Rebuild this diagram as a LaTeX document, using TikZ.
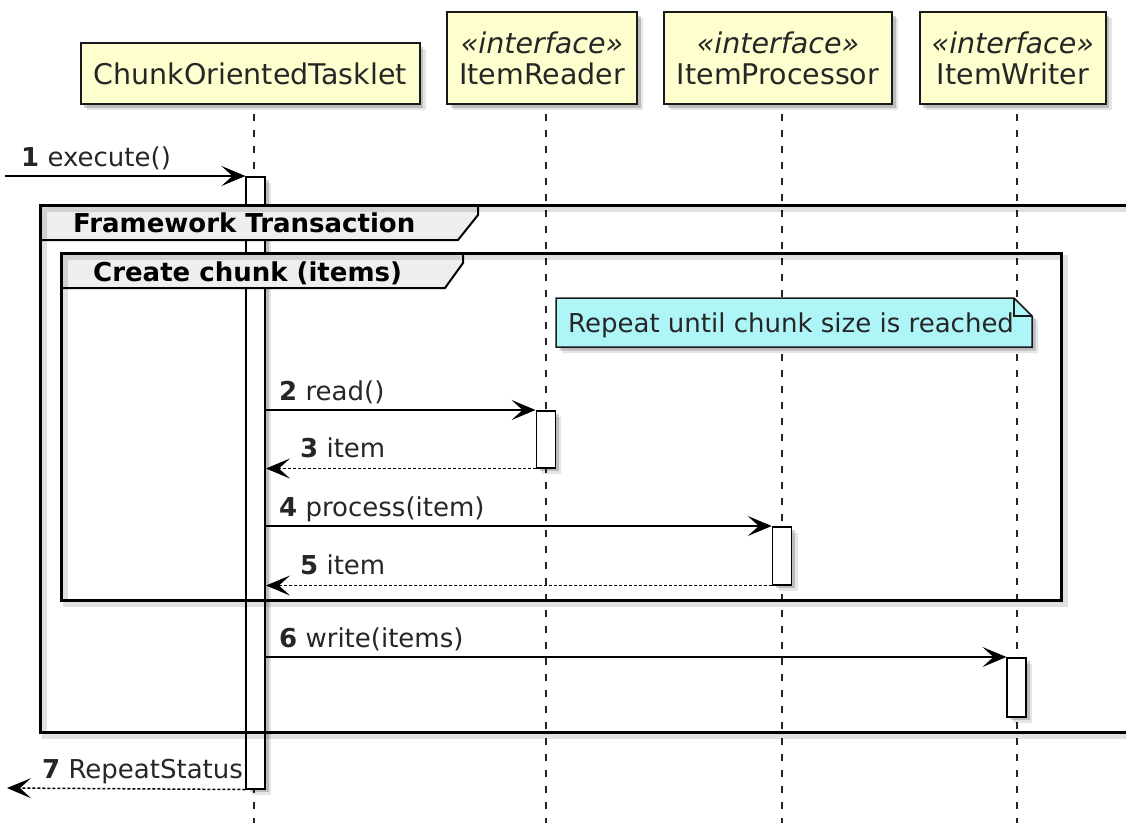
\documentclass[tikz,border=0pt]{standalone}
\usepackage{fontspec}
\setmainfont{DejaVu Sans}
\usetikzlibrary{arrows.meta,shadows}
\definecolor{partfill}{HTML}{FEFECE}
\definecolor{notefill}{HTML}{AEF5F8}
\definecolor{tabfill}{HTML}{EEEEEE}

\begin{document}
\begin{tikzpicture}[x=1pt,y=-1pt,
        softshadow/.style={drop shadow={shadow xshift=6pt,shadow yshift=-6pt,opacity=.10,fill=black},
            drop shadow={shadow xshift=3.5pt,shadow yshift=-3.5pt,opacity=.18,fill=black}},
        participant/.style={draw=black!90,line width=2pt,fill=partfill,softshadow,align=center,
            inner sep=0pt,text=black!85,font=\fontsize{28.5}{31}\selectfont},
        lifeline/.style={draw=black!85,line width=2pt,dash pattern=on 7pt off 9pt},
        bar/.style={draw,line width=1.5pt,fill=white,softshadow,minimum width=19pt,inner sep=0pt},
        msg/.style={line width=1.5pt,-{Stealth[length=24pt,width=20pt,inset=11pt]}},
        reply/.style={msg,dash pattern=on 3pt off 2pt},
        msglabel/.style={inner sep=0pt,anchor=base west,text=black!85,font=\fontsize{26}{28}\selectfont},
        frameline/.style={line width=3pt,
            preaction={draw=black,opacity=.12,line width=5pt,transform canvas={shift={(4pt,-4pt)}}}},
        tab/.style={draw,line width=2pt,fill=tabfill},
        tabtitle/.style={inner sep=0pt,anchor=base west,font=\fontsize{26}{28}\selectfont\bfseries},
        notebox/.style={draw=black!90,line width=1.5pt,fill=notefill,softshadow}]
            \useasboundingbox (0,0) rectangle (1126,823);
            \clip (0,0) rectangle (1126,823);

            \node[participant,minimum width=339pt,minimum height=61pt] (tasklet) at (250.3,73.5) {ChunkOrientedTasklet};
            \node[participant,minimum width=190pt,minimum height=92pt] (reader) at (542,58) {\textit{«interface»}\\ItemReader};
            \node[participant,minimum width=228pt,minimum height=92pt] (processor) at (778,58) {\textit{«interface»}\\ItemProcessor};
            \node[participant,minimum width=186pt,minimum height=92pt] (writer) at (1012.8,58) {\textit{«interface»}\\ItemWriter};

            \coordinate (taskletEnd) at (253.5,823);
            \coordinate (readerEnd) at (545.7,823);
            \coordinate (processorEnd) at (782,823);
            \coordinate (writerEnd) at (1016.7,823);
            \draw[lifeline] ([yshift=-9pt]taskletEnd |- tasklet.south) -- (taskletEnd);
            \draw[lifeline] ([yshift=-9pt]readerEnd |- reader.south) -- (readerEnd);
            \draw[lifeline] ([yshift=-9pt]processorEnd |- processor.south) -- (processorEnd);
            \draw[lifeline] ([yshift=-9pt]writerEnd |- writer.south) -- (writerEnd);

            \node[bar,minimum height=612pt,anchor=north] (actT) at (255.7,176) {};
            \node[bar,minimum height=57pt,anchor=north] (actR) at (545.8,410) {};
            \node[bar,minimum height=58pt,anchor=north] (actP) at (782,526) {};
            \node[bar,minimum height=59pt,anchor=north] (actW) at (1016.7,657) {};

            \draw[tab] (40,205) -- (478,205) -- (478,215) -- (458,240) -- (40,240) -- cycle;
            \node[tabtitle] (framework) at (73,232.5) {Framework Transaction};
            \draw[frameline] (40,205) rectangle (1150,732.7);
            \draw[tab] (61,253) -- (463,253) -- (463,263) -- (445,288) -- (61,288) -- cycle;
            \node[tabtitle] (chunk) at (93,281) {Create chunk (items)};
            \draw[frameline] (61,253) rectangle (1061.7,600.7);

            \draw[notebox] (556,298) -- (1014,298) -- (1032,316) -- (1032,347) -- (556,347) -- cycle;
            \draw[line width=1.5pt,black!90] (1014,298) |- (1032,316);
            \node[msglabel] (note) at (568,332) {Repeat until chunk size is reached};

            \coordinate (caller) at (5,176);
            \coordinate (callerBack) at (7,788);
            \draw[msg] (caller) -- (actT.north west);
            \node[msglabel] (m1) at (21,166) {\textbf{1} execute()};
            \draw[msg] (actT.east |- actR.north) -- (actR.north west);
            \node[msglabel] (m2) at (279,400) {\textbf{2} read()};
            \draw[reply] (actR.south west) -- (actT.east |- actR.south);
            \node[msglabel] (m3) at (300,457) {\textbf{3} item};
            \draw[msg] (actT.east |- actP.north) -- (actP.north west);
            \node[msglabel] (m4) at (279,516) {\textbf{4} process(item)};
            \draw[reply] (actP.south west) -- (actT.east |- actP.south);
            \node[msglabel] (m5) at (300,574) {\textbf{5} item};
            \draw[msg] (actT.east |- actW.north) -- (actW.north west);
            \node[msglabel] (m6) at (279,647) {\textbf{6} write(items)};
            \draw[reply] (actT.south west) -- (callerBack);
            \node[msglabel] (m7) at (42,778) {\textbf{7} RepeatStatus};
\end{tikzpicture}
\end{document}
